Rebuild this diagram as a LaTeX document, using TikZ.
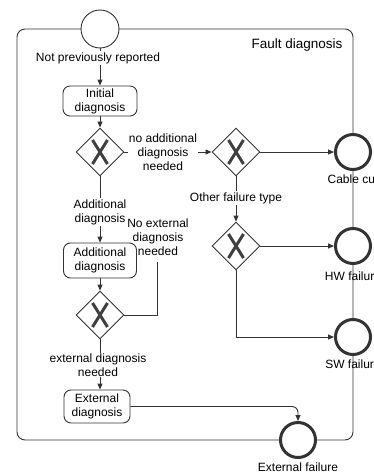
\documentclass[tikz,border=0pt]{standalone}
\usepackage{fontspec}
\setmainfont{Liberation Sans}
\usetikzlibrary{shapes.geometric,arrows.meta}
\begin{document}
\begin{tikzpicture}[x=1pt,y=-1pt,
  every node/.style={font=\fontsize{12}{14}\selectfont},
  line/.style={draw=black!80, line width=0.9pt},
  flow/.style={line, -{Triangle[length=6pt,width=5pt]}},
  task/.style={line, rounded corners=7pt, fill=white, align=center, inner sep=0pt},
  gateway/.style={line, diamond, fill=white, minimum width=48pt, minimum height=48pt,
    inner sep=0pt, aspect=1,
    path picture={\draw[line width=3pt, black!75]
      (path picture bounding box.center) ++(-7.5pt,-12pt) -- ++(15pt,24pt)
      (path picture bounding box.center) ++(7.5pt,-12pt) -- ++(-15pt,24pt);}},
  startev/.style={circle, line, fill=white, minimum size=38pt, inner sep=0pt},
  endev/.style={circle, draw=black!80, line width=3pt, fill=white, minimum size=35pt, inner sep=0pt},
  lbl/.style={align=center, fill=white, inner sep=1pt},
  plain/.style={align=center, inner sep=1pt},
]
\useasboundingbox[fill=white] (0,0) rectangle (373,474);

% sub-process frame
\node[line, rounded corners=8pt, minimum width=336pt, minimum height=411pt, inner sep=0pt]
  (fault) at (185,234.5) {};
\node[plain, font=\fontsize{13.5}{16}\selectfont] (faulttitle) at (297,45) {Fault diagnosis};

% events
\node[startev] (start) at (100,29) {};
\node[endev] (cable) at (353,152) {};
\node[endev] (hw) at (353,246) {};
\node[endev] (sw) at (353,337) {};
\node[endev] (extfail) at (298,440) {};
\node[plain] (cablelbl) at (353,179) {Cable cut};
\node[plain] (hwlbl) at (353,276) {HW failure};
\node[plain] (swlbl) at (353,364) {SW failure};
\node[plain] (extfaillbl) at (298,467) {External failure};

% tasks
\node[task, minimum width=74pt, minimum height=30pt] (initial) at (100,101) {Initial\\diagnosis};
\node[task, minimum width=73pt, minimum height=35pt] (additional) at (100,260.5) {Additional\\diagnosis};
\node[task, minimum width=66pt, minimum height=33pt] (external) at (97,406.5) {External\\diagnosis};

% gateways
\node[gateway] (g1) at (100,152) {};
\node[gateway] (g2) at (236,152) {};
\node[gateway] (g3) at (236,246) {};
\node[gateway] (g4) at (100,315) {};

\coordinate (noext) at (157,262);

% sequence flows
\draw[flow] (start) -- (initial);
\draw[flow] (initial) -- (g1);
\draw[flow] (g1) -- (g2);
\draw[flow] (g1) -- (additional);
\draw[flow] (g2) -- (cable);
\draw[flow] (g2) -- (g3);
\draw[flow] (g3) -- (hw);
\draw[flow] (g3.south) |- (sw.west);
\draw[flow] (additional) -- (g4);
\draw[line] (g4.east) -| (noext);
\draw[flow] (g4.south) -- (external.north -| g4.south);
\draw[flow, rounded corners=6pt] (external.east) -| (extfail.north);

% flow labels
\node[lbl] (lstart) at (98,58) {Not previously reported};
\node[lbl] (lnoadd) at (163,152) {no additional\\diagnosis\\needed};
\node[lbl] (ladd) at (100,212) {Additional\\diagnosis};
\node[lbl] (lother) at (236,198) {Other failure type};
\node[plain] (lnoext) at (158,237) {No external\\diagnosis\\needed};
\node[lbl] (lext) at (98,365) {external diagnosis\\needed};
\end{tikzpicture}
\end{document}
